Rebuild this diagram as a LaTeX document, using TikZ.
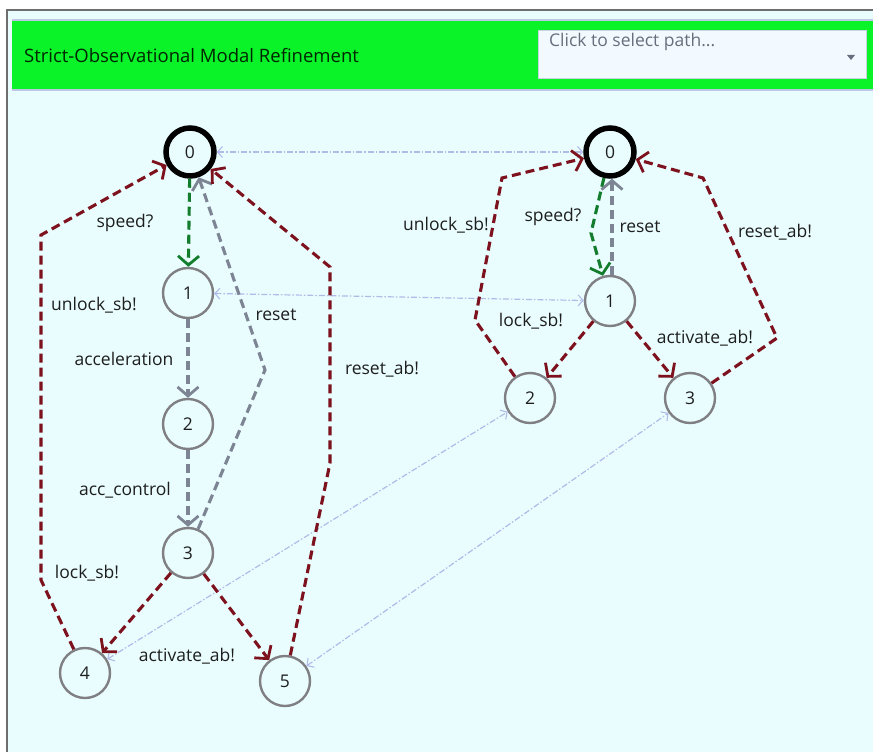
\documentclass[tikz,border=0pt]{standalone}
\usepackage{fontspec}
\setmainfont{Open Sans}
\usetikzlibrary{arrows.meta}
\definecolor{bg}{RGB}{233,253,254}
\definecolor{framegray}{RGB}{110,110,110}
\definecolor{bargreen}{RGB}{10,242,40}
\definecolor{barline}{RGB}{190,200,230}
\definecolor{ddfill}{RGB}{242,250,255}
\definecolor{ddline}{RGB}{200,210,225}
\definecolor{ddtext}{RGB}{105,110,125}
\definecolor{redE}{RGB}{125,18,30}
\definecolor{greenE}{RGB}{20,125,45}
\definecolor{grayE}{RGB}{125,132,148}
\definecolor{crossE}{RGB}{178,186,232}
\definecolor{nodegray}{RGB}{128,128,132}
\definecolor{txt}{RGB}{30,30,30}
\tikzset{
  st/.style={circle, draw=nodegray, line width=2.4pt, fill=bg, minimum size=50pt, inner sep=0pt,
    font=\fontsize{17.5}{20}\selectfont, text=txt},
  initst/.style={st, draw=black, line width=5.5pt, minimum size=48pt},
  lbl/.style={font=\fontsize{17.5}{20}\selectfont, text=txt, inner sep=0pt},
  baseE/.style={line width=3.1pt, dash pattern=on 9pt off 5pt, -{Straight Barb[length=9pt,width=21pt,line width=2.8pt]}},
  redEdge/.style={baseE, draw=redE},
  greenEdge/.style={baseE, draw=greenE},
  grayEdge/.style={baseE, draw=grayE},
  crossEdge/.style={draw=crossE, line width=1.2pt, dash pattern=on 6pt off 2pt on 1.5pt off 2pt,
    {Straight Barb[length=5pt,width=11pt,line width=1.1pt]}-{Straight Barb[length=5pt,width=11pt,line width=1.1pt]}}
}
\begin{document}
\begin{tikzpicture}[x=1pt,y=-1pt]
\useasboundingbox (0,0) rectangle (873,752);
\fill[white] (0,0) rectangle (873,752);
\fill[bg] (7,10) rectangle (873,752);
\draw[framegray, line width=1.6pt] (7,752) -- (7,10) -- (873,10);
% title bar
\fill[barline] (12,19) rectangle (873,91);
\fill[bargreen] (12,21) rectangle (873,89);
\node[anchor=west, inner sep=0pt, font=\fontsize{18.5}{20}\selectfont, text=black!85!green] (title) at (24,56) {Strict-Observational Modal Refinement};
\node[draw=ddline, fill=ddfill, line width=1pt, minimum width=328pt, minimum height=48pt, anchor=north west, inner sep=0pt] (dd) at (538,30) {};
\node[anchor=west, inner sep=0pt, font=\fontsize{17.5}{20}\selectfont, text=ddtext] (ddtext) at (549,42) {Click to select path...};
\fill[ddtext] (847,55) -- (855,55) -- (851,60) -- cycle;

% left graph
\node[initst] (L0) at (190,152) {0};
\node[st] (L1) at (188,293) {1};
\node[st] (L2) at (188,424) {2};
\node[st] (L3) at (188,553) {3};
\node[st] (L4) at (85,673) {4};
\node[st] (L5) at (285,681) {5};
% right graph
\node[initst] (R0) at (610,152) {0};
\node[st] (R1) at (610,301) {1};
\node[st] (R2) at (530,398) {2};
\node[st] (R3) at (690,398) {3};

% bend points
\coordinate (a1) at (41,580);
\coordinate (a2) at (41,235);
\coordinate (b1) at (330,463);
\coordinate (b2) at (330,267);
\coordinate (c1) at (265,370);
\coordinate (d1) at (591,233);
\coordinate (e1) at (475,320);
\coordinate (e2) at (502,178);
\coordinate (f1) at (777,338);
\coordinate (f2) at (703,178);

% cross links
\draw[crossEdge] (L0) -- (R0);
\draw[crossEdge] (L1) -- (R1);
\draw[crossEdge] (L4) -- (R2);
\draw[crossEdge] (L5) -- (R3);

% left edges
\draw[greenEdge] (L0) -- (L1);
\draw[grayEdge] (L1) -- (L2);
\draw[grayEdge] (L2) -- (L3);
\draw[grayEdge] (L3) -- (c1) -- (L0);
\draw[redEdge] (L3) -- (L4);
\draw[redEdge] (L3) -- (L5);
\draw[redEdge] (L4) -- (a1) -- (a2) -- (L0);
\draw[redEdge] (L5) -- (b1) -- (b2) -- (L0);
% right edges
\draw[greenEdge] (R0) -- (d1) -- (R1);
\draw[grayEdge] ([xshift=2pt]R1.north) -- ([xshift=2pt]R0.south);
\draw[redEdge] (R1) -- (R2);
\draw[redEdge] (R1) -- (R3);
\draw[redEdge] (R2) -- (e1) -- (e2) -- (R0);
\draw[redEdge] (R3) -- (f1) -- (f2) -- (R0);

% labels left
\node[lbl] (t1) at (125,223) {speed?};
\node[lbl] (t2) at (94,305) {unlock\_sb!};
\node[lbl] (t3) at (124,359) {acceleration};
\node[lbl] (t4) at (276,315) {reset};
\node[lbl] (t5) at (382,369) {reset\_ab!};
\node[lbl] (t6) at (125,490) {acc\_control};
\node[lbl] (t7) at (87,573) {lock\_sb!};
\node[lbl] (t8) at (187,656) {activate\_ab!};
% labels right
\node[lbl] (u1) at (446,225) {unlock\_sb!};
\node[lbl] (u2) at (553,217) {speed?};
\node[lbl] (u3) at (640,227) {reset};
\node[lbl] (u4) at (775,232) {reset\_ab!};
\node[lbl] (u5) at (531,321) {lock\_sb!};
\node[lbl] (u6) at (705,338) {activate\_ab!};
\end{tikzpicture}
\end{document}
